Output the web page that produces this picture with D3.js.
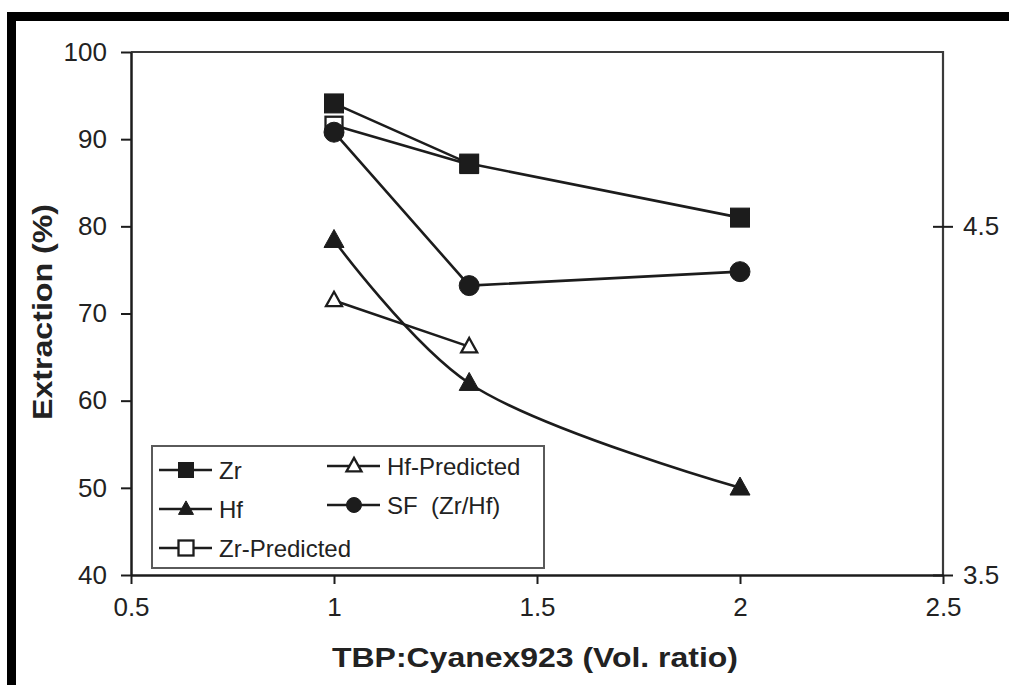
<!DOCTYPE html>
<html>
<head>
<meta charset="utf-8">
<script src="https://cdn.jsdelivr.net/npm/d3@7"></script>
<style>
  body { margin: 0; background: #fff; }
  svg { display: block; font-family: "Liberation Sans", Arial, sans-serif; }
</style>
</head>
<body>
<svg id="chart" width="1009" height="685"></svg>
<script>
// values
const ratio = [1, 1.333, 2]
const ratioPred = [1, 1.333]
const zr = [94.1, 87.2, 81.0]
const hf = [78.4, 62.0, 50.0]
const zrPred = [91.6, 87.1]
const hfPred = [71.5, 66.2]
const sf = [4.77, 4.33, 4.37] // plotted on the right axis

const xTicks = [0.5, 1, 1.5, 2, 2.5]
const yTicks = [40, 50, 60, 70, 80, 90, 100]
const y2Ticks = [3.5, 4.5]

const legendItems = [
  { name: 'Zr', symbol: 'square', fill: true, col: 0, row: 0 },
  { name: 'Hf', symbol: 'triangle', fill: true, col: 0, row: 1 },
  { name: 'Zr-Predicted', symbol: 'square', fill: false, col: 0, row: 2 },
  { name: 'Hf-Predicted', symbol: 'triangle', fill: false, col: 1, row: 0 },
  { name: 'SF  (Zr/Hf)', symbol: 'circle', fill: true, col: 1, row: 1 }
]

const ink = '#1c1c1c'
const svg = d3.select('#chart')

// plot box
const plotLeft = 131, plotRight = 943, plotTop = 52, plotBottom = 575

const x = d3.scaleLinear().domain([0.5, 2.5]).range([plotLeft, plotRight])
const y = d3.scaleLinear().domain([40, 100]).range([plotBottom, plotTop])
const y2 = d3.scaleLinear().domain([3.5, 5.0]).range([plotBottom, plotTop])

// black frame pieces at the top and left of the picture
svg.append('rect').attr('x', 7).attr('y', 12).attr('width', 1002).attr('height', 9).attr('fill', '#000')
svg.append('rect').attr('x', 7).attr('y', 12).attr('width', 9).attr('height', 673).attr('fill', '#000')

// top and right border of the plot area
svg.append('path')
  .attr('d', 'M' + plotLeft + ',' + plotTop + 'H' + plotRight + 'V' + plotBottom)
  .attr('fill', 'none')
  .attr('stroke', '#3a3a3a')
  .attr('stroke-width', 2.2)

function styleAxis (g) {
  g.select('.domain').attr('stroke', ink).attr('stroke-width', 2.5)
  g.selectAll('.tick line').attr('stroke', ink).attr('stroke-width', 2)
  g.selectAll('.tick text')
    .attr('fill', '#222')
    .style('font-size', '26px')
    .style('font-family', '"Liberation Sans", Arial, sans-serif')
}

// left axis
svg.append('g')
  .attr('transform', 'translate(' + plotLeft + ',0)')
  .call(d3.axisLeft(y).tickValues(yTicks).tickSize(10).tickSizeOuter(0).tickPadding(14))
  .call(styleAxis)

// bottom axis
const xAxis = svg.append('g')
  .attr('transform', 'translate(0,' + plotBottom + ')')
  .call(d3.axisBottom(x).tickValues(xTicks).tickFormat(d3.format('')).tickSize(9).tickSizeOuter(0).tickPadding(9))
  .call(styleAxis)
xAxis.selectAll('.tick text').attr('dy', '0.9em')

// right axis, ticks cross the line
const yAxis2 = svg.append('g')
  .attr('transform', 'translate(' + plotRight + ',0)')
  .call(d3.axisRight(y2).tickValues(y2Ticks).tickFormat(d3.format('.1f')).tickSize(10).tickSizeOuter(0).tickPadding(10))
  .call(styleAxis)
yAxis2.select('.domain').remove()
yAxis2.selectAll('.tick line').attr('x1', -10)

// axis titles
svg.append('text')
  .attr('x', 535).attr('y', 667)
  .attr('text-anchor', 'middle')
  .attr('textLength', 406)
  .attr('lengthAdjust', 'spacingAndGlyphs')
  .style('font-size', '28px').style('font-weight', 'bold')
  .attr('fill', '#222')
  .text('TBP:Cyanex923 (Vol. ratio)')

svg.append('text')
  .attr('transform', 'translate(52,312) rotate(-90)')
  .attr('text-anchor', 'middle')
  .attr('textLength', 216)
  .attr('lengthAdjust', 'spacingAndGlyphs')
  .style('font-size', '28px').style('font-weight', 'bold')
  .attr('fill', '#222')
  .text('Extraction (%)')

// marker shapes
function marker (g, symbol, filled, size) {
  let s
  if (symbol === 'square') {
    s = g.append('rect').attr('x', -size / 2).attr('y', -size / 2).attr('width', size).attr('height', size)
  } else if (symbol === 'circle') {
    s = g.append('circle').attr('r', size / 2)
  } else {
    let h = size * 0.9
    s = g.append('path').attr('d', 'M0,' + (-h * 0.6) + 'L' + (size / 2) + ',' + (h * 0.4) + 'L' + (-size / 2) + ',' + (h * 0.4) + 'Z')
  }
  s.attr('fill', filled ? ink : '#fff')
    .attr('stroke', ink)
    .attr('stroke-width', filled ? 1 : 2.3)
}

function drawSeries (xs, ys, yScale, symbol, filled, size, curve) {
  const pts = xs.map(function (d, i) { return [x(d), yScale(ys[i])] })
  const line = d3.line().curve(curve || d3.curveLinear)
  svg.append('path')
    .attr('d', line(pts))
    .attr('fill', 'none')
    .attr('stroke', ink)
    .attr('stroke-width', 2.6)
  pts.forEach(function (p) {
    const g = svg.append('g').attr('transform', 'translate(' + p[0] + ',' + p[1] + ')')
    marker(g, symbol, filled, size)
  })
}

// predicted series go underneath the measured ones
drawSeries(ratioPred, zrPred, y, 'square', false, 17)
drawSeries(ratioPred, hfPred, y, 'triangle', false, 16)
drawSeries(ratio, zr, y, 'square', true, 19)
drawSeries(ratio, hf, y, 'triangle', true, 20, d3.curveCatmullRom.alpha(0.5))
drawSeries(ratio, sf, y2, 'circle', true, 20)

// legend
const legend = svg.append('g').attr('transform', 'translate(152,446)')
legend.append('rect')
  .attr('width', 392).attr('height', 122)
  .attr('fill', '#fff')
  .attr('stroke', '#5a5a5a')
  .attr('stroke-width', 2)

const colX = [7, 175]
const rowY = [24, 63, 102]

legendItems.forEach(function (d) {
  const gx = colX[d.col]
  const gy = rowY[d.row] - (d.col === 1 ? 4 : 0)
  const g = legend.append('g').attr('transform', 'translate(' + gx + ',' + gy + ')')
  g.append('line').attr('x1', 0).attr('x2', 53)
    .attr('stroke', ink).attr('stroke-width', 2.4)
  const m = g.append('g').attr('transform', 'translate(27,0)')
  marker(m, d.symbol, d.fill, 15)
  g.append('text')
    .attr('x', 60).attr('y', 0).attr('dy', '0.36em')
    .style('font-size', '24px')
    .style('white-space', 'pre')
    .attr('fill', '#222')
    .text(d.name)
})
</script>
</body>
</html>
